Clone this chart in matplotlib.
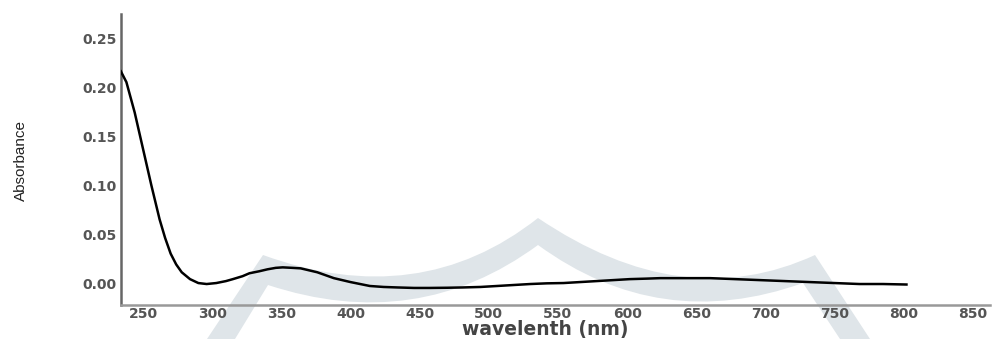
import matplotlib
matplotlib.use("Agg")
import matplotlib.pyplot as plt
from matplotlib.path import Path
from matplotlib.patches import PathPatch

# =============================================================================
# DATA
# =============================================================================
wavelength = [234, 238, 244, 250, 256, 262, 266, 270, 274, 278, 284, 290, 296,
              303, 310, 315, 322, 327, 334, 340, 346, 351, 358, 364, 370, 376,
              382, 388, 394, 400, 407, 414, 424, 434, 446, 457, 470, 481, 494,
              506, 518, 530, 542, 554, 566, 578, 590, 602, 614, 624, 640, 660,
              678, 696, 714, 732, 750, 768, 785, 802]
absorbance = [0.216, 0.205, 0.174, 0.137, 0.100, 0.065, 0.046, 0.030, 0.019,
              0.011, 0.004, 0.000, -0.001, 0.000, 0.002, 0.004, 0.007, 0.010,
              0.012, 0.014, 0.0155, 0.016, 0.0155, 0.015, 0.013, 0.011, 0.008,
              0.005, 0.003, 0.001, -0.001, -0.003, -0.004, -0.0045, -0.005,
              -0.005, -0.0048, -0.0045, -0.004, -0.003, -0.002, -0.001,
              -0.0003, 0.000, 0.001, 0.002, 0.003, 0.004, 0.0045, 0.005, 0.005,
              0.005, 0.004, 0.003, 0.002, 0.001, 0.000, -0.001, -0.001, -0.0015]

x_ticks = [250, 300, 350, 400, 450, 500, 550, 600, 650, 700, 750, 800, 850]
y_ticks = [0.00, 0.05, 0.10, 0.15, 0.20, 0.25]

X_LABEL = "wavelenth (nm)"
Y_LABEL = "Absorbance"

# =============================================================================
# STYLE
# =============================================================================
W, H = 994, 339
TEXT_GREY = "#555555"
AXIS_GREY = "#999999"
MARK_GREY = "#dfe5e9"   # faint watermark band behind the plot

fig = plt.figure(figsize=(W / 100, H / 100), dpi=100)
fig.patch.set_facecolor("white")


def px(x, y):
    # pixel position (top-left origin) -> figure fraction
    return (x / W, 1 - y / H)


# --- background watermark (crown-like band), kept behind the axes ---
verts = [px(207, 339), px(263, 255),
         px(419, 312), px(538, 218),
         px(683, 316), px(815, 255),
         px(870, 339), px(840, 339), px(803, 283),
         px(660, 334), px(538, 245),
         px(417, 334), px(268, 285),
         px(235, 339), px(207, 339)]
codes = [Path.MOVETO, Path.LINETO,
         Path.CURVE3, Path.CURVE3,
         Path.CURVE3, Path.CURVE3,
         Path.LINETO, Path.LINETO, Path.LINETO,
         Path.CURVE3, Path.CURVE3,
         Path.CURVE3, Path.CURVE3,
         Path.LINETO, Path.CLOSEPOLY]
fig.patches.append(PathPatch(Path(verts, codes), transform=fig.transFigure,
                             facecolor=MARK_GREY, edgecolor="none", zorder=-5))

# --- axes ---
ax = fig.add_axes([121 / W, 1 - 305 / H, (990 - 121) / W, (305 - 14) / H])
ax.set_zorder(2)
ax.patch.set_alpha(0)
ax.plot(wavelength, absorbance, color="black", linewidth=1.8, zorder=3)

ax.set_xlim(234.1, 862.4)
ax.set_ylim(-0.0224, 0.2745)
ax.set_xticks(x_ticks)
ax.set_yticks(y_ticks)
ax.set_yticklabels([f"{v:.2f}" for v in y_ticks])

for side in ["top", "right"]:
    ax.spines[side].set_visible(False)
for side in ["left", "bottom"]:
    ax.spines[side].set_color(AXIS_GREY)
    ax.spines[side].set_linewidth(1.8)
ax.spines["left"].set_color("#666666")

ax.tick_params(length=0, labelsize=10, labelcolor=TEXT_GREY)
ax.tick_params(axis="x", pad=1.5)
ax.tick_params(axis="y", pad=3)
for lbl in ax.get_xticklabels() + ax.get_yticklabels():
    lbl.set_fontweight("bold")

# --- axis titles ---
fig.text(*px(545, 330), X_LABEL, ha="center", va="center", fontsize=13.5,
         fontweight="bold", color="#444444", zorder=5)
fig.text(*px(21, 161), Y_LABEL, ha="center", va="center", rotation=90,
         fontsize=11, color="#222222",
         family=["Liberation Sans Narrow", "Liberation Sans", "DejaVu Sans"])

fig.savefig("out.png", dpi=100, facecolor="white")
